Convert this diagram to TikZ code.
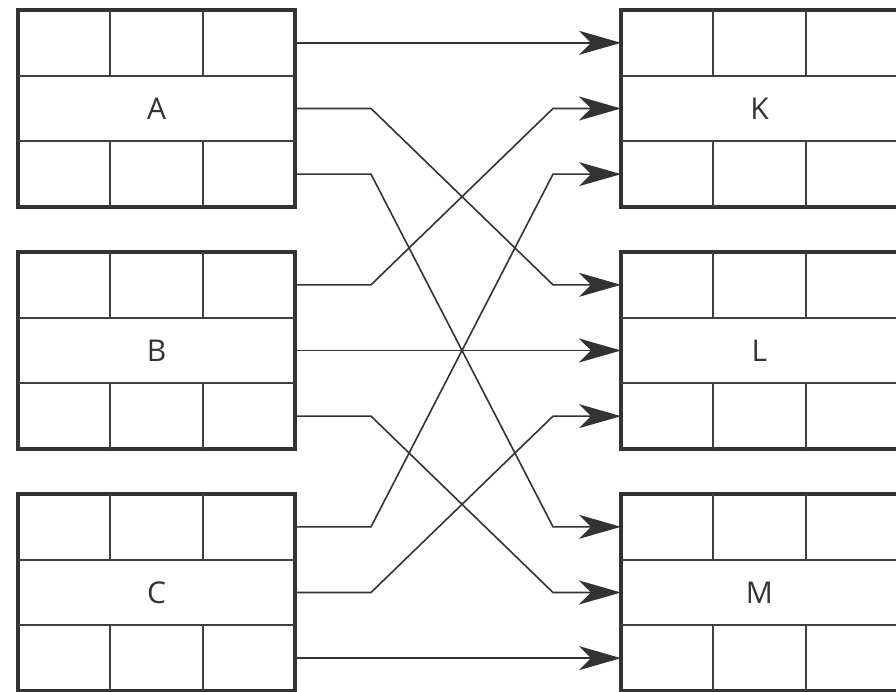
\documentclass[tikz,border=0pt]{standalone}
\usepackage{fontspec}
\setsansfont{Open Sans}
\usetikzlibrary{
	arrows.meta,
	positioning,
	calc
}

\begin{document}
\begin{tikzpicture}[
    x=1pt, y=1pt,
    node distance=45pt and 326pt,
    block/.style={rectangle, draw=black!80, line width=3.4pt, minimum width=277pt, minimum height=197pt, inner sep=0pt, outer sep=0pt, font=\sffamily\fontsize{30}{34}\selectfont, text=black!80},
    grid/.style={draw=black!75, line width=2pt},
    arrow/.style={draw=black!80, line width=1.6pt, -{Stealth[length=42pt,width=24pt,inset=12pt]}}
]
\useasboundingbox (0,0) rectangle (896,692);

% Blocks
\node[block] (A) at (156.5,583.5) {A};
\node[block, below=of A] (B) {B};
\node[block, below=of B] (C) {C};
\node[block, right=of A] (K) {K};
\node[block, right=of B] (L) {L};
\node[block, right=of C] (M) {M};

% Cells
\foreach \n in {A,B,C,K,L,M} {
  \draw[grid] ($(\n.north west)!0.3333!(\n.south west)$) -- ($(\n.north east)!0.3333!(\n.south east)$);
  \draw[grid] ($(\n.north west)!0.6667!(\n.south west)$) -- ($(\n.north east)!0.6667!(\n.south east)$);
  \foreach \f in {0.3333,0.6667} {
    \draw[grid] ($(\n.north west)!\f!(\n.north east)$) -- ++(0,-65.7);
    \draw[grid] ($(\n.south west)!\f!(\n.south east)$) -- ++(0,65.7);
  }
}

% Ports
\foreach \n in {A,B,C}
  \foreach \i/\f in {1/0.1667,2/0.5,3/0.8333}
    \coordinate (\n-\i) at ($(\n.north east)!\f!(\n.south east)$);
\foreach \n in {K,L,M}
  \foreach \i/\f in {1/0.1667,2/0.5,3/0.8333}
    \coordinate (\n-\i) at ($(\n.north west)!\f!(\n.south west)$);

% Arrows
\draw[arrow] (A-1) -- (K-1);
\draw[arrow] (B-2) -- (L-2);
\draw[arrow] (C-3) -- (M-3);
\foreach \s/\t in {A-2/L-1, A-3/M-1, B-1/K-2, B-3/M-2, C-1/K-3, C-2/L-3}
  \draw[arrow] (\s) -- ++(76,0) -- ($(\t)+(-68,0)$) -- (\t);

\end{tikzpicture}
\end{document}
